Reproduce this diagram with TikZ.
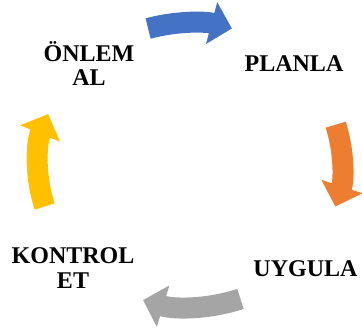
\documentclass[tikz,border=0pt]{standalone}
\usepackage{fontspec}
\setmainfont{Liberation Serif}
\usepackage{xcolor}
\definecolor{arrowblue}{RGB}{68,114,196}
\definecolor{arroworange}{RGB}{237,125,49}
\definecolor{arrowgray}{RGB}{165,165,165}
\definecolor{arrowyellow}{RGB}{255,192,0}
\usepackage{tikz}
\usetikzlibrary{arrows.meta}
\tikzset{
    phase/.style={font=\bfseries\fontsize{24}{24.5}\selectfont, align=center, inner sep=0pt},
    cyclearrow/.style={line width=21pt, -{Triangle[width=42pt, length=21pt]}},
    ring/.style={x radius=152pt, y radius=142pt},
}

\begin{document}
\begin{tikzpicture}[x=1pt, y=1pt]
    \useasboundingbox (0,0) rectangle (362,329);
    \coordinate (c) at (190,164);

    \node[phase] (onlem) at (89,265.5) {ÖNLEM\\AL};
    \node[phase, anchor=base] (planla) at (294,257) {PLANLA};
    \node[phase, anchor=base] (uygula) at (305.5,52) {UYGULA};
    \node[phase] (kontrol) at (73,61) {KONTROL\\ET};

    % arrows round the cycle
    \draw[cyclearrow, arrowblue] (c) ++(106:152pt and 142pt) arc[ring, start angle=106, end angle=74];
    \draw[cyclearrow, arroworange] (c) ++(16.5:152pt and 142pt) arc[ring, start angle=16.5, end angle=-17];
    \draw[cyclearrow, arrowgray] (c) ++(-70.6:152pt and 142pt) arc[ring, start angle=-70.6, end angle=-108];
    \draw[cyclearrow, arrowyellow] (c) ++(197:152pt and 142pt) arc[ring, start angle=197, end angle=159];
\end{tikzpicture}
\end{document}
